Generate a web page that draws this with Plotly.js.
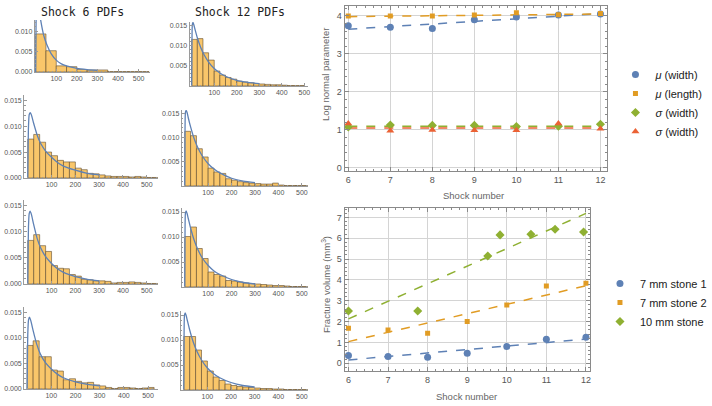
<!DOCTYPE html>
<html><head><meta charset="utf-8">
<script src="https://cdn.plot.ly/plotly-3.0.1.min.js"></script>
<style>body{margin:0;background:#fff}#c{width:712px;height:406px}</style>
</head><body><div id="c"></div>
<script>
// ---------- DATA ----------
const BIN_SHOCK6_TOP = 50;
const BIN = 25;
const histA = [0.0093, 0.0052, 0.0015, 0.0013, 0.0006, 0.0005, 0.0005, 0.0001, 0.0001, 0.0001, 0.0001];
const histB = [0.0115, 0.0117, 0.0082, 0.0064, 0.0037, 0.0027, 0.0021, 0.0017, 0.0012, 0.0010, 0.0008, 0.0006, 0.0005, 0.0004, 0.0003, 0.0003, 0.0002, 0.0001, 0.0001, 0.0001];
const histC = [0.0075, 0.0084, 0.0069, 0.0050, 0.0043, 0.0034, 0.0031, 0.0031, 0.0019, 0.0016, 0.0009, 0.0008, 0.0006, 0.0004, 0.0003, 0.0003, 0.0003, 0.0002, 0.0003, 0.0002, 0.0001, 0.0001];
const histD = [0.0113, 0.0104, 0.0077, 0.0060, 0.0037, 0.0029, 0.0026, 0.0015, 0.0012, 0.0009, 0.0007, 0.0006, 0.0005, 0.0004, 0.0004, 0.0006, 0.0002, 0.0001, 0.0001, 0.0001, 0.0001];
const histE = [0.0083, 0.0094, 0.0073, 0.0062, 0.0035, 0.0030, 0.0029, 0.0018, 0.0015, 0.0009, 0.0008, 0.0006, 0.0006, 0.0005, 0.0002, 0.0003, 0.0003, 0.0004, 0.0003, 0.0002, 0.0001, 0.0001];
const histF = [0.0101, 0.0120, 0.0077, 0.0057, 0.0030, 0.0025, 0.0022, 0.0013, 0.0012, 0.0010, 0.0008, 0.0007, 0.0006, 0.0005, 0.0004, 0.0003, 0.0003, 0.0002, 0.0001, 0.0001, 0.0001];
const histG = [0.0085, 0.0094, 0.0063, 0.0063, 0.0037, 0.0035, 0.0018, 0.0020, 0.0015, 0.0012, 0.0013, 0.0008, 0.0006, 0.0003, 0.0001, 0.0003, 0.0003, 0.0002, 0.0001, 0.0002, 0.0003];
const histH = [0.0107, 0.0107, 0.0080, 0.0058, 0.0038, 0.0026, 0.0019, 0.0012, 0.0009, 0.0007, 0.0006, 0.0005, 0.0004, 0.0003, 0.0003, 0.0002, 0.0002, 0.0001, 0.0001, 0.0001, 0.0001];

const curveX = [0, 1, 3, 6, 10, 15, 25, 40, 55, 75, 100, 125, 150, 200, 250, 300];
const curveA = [0, 0.006, 0.016, 0.019, 0.0185, 0.0162, 0.0125, 0.0088, 0.0066, 0.0045, 0.0029, 0.0020, 0.0015, 0.0009, 0.0006, 0.0004];
const curveB = [0, 0.009, 0.0152, 0.0157, 0.0150, 0.0139, 0.0119, 0.0095, 0.0077, 0.0059, 0.0043, 0.0032, 0.0024, 0.0014, 0.0009, 0.0006];
const curveC = [0, 0.004, 0.0098, 0.0122, 0.0126, 0.0122, 0.0105, 0.0082, 0.0066, 0.0052, 0.0040, 0.0030, 0.0023, 0.0015, 0.0009, 0.0006];
const curveD = [0, 0.009, 0.0152, 0.0156, 0.0152, 0.0141, 0.0122, 0.0098, 0.0080, 0.0062, 0.0046, 0.0035, 0.0027, 0.0016, 0.0010, 0.0007];
const curveE = [0, 0.0045, 0.0108, 0.0134, 0.0139, 0.0133, 0.0113, 0.0086, 0.0068, 0.0052, 0.0039, 0.0029, 0.0022, 0.0014, 0.0009, 0.0006];
const curveF = [0, 0.009, 0.0148, 0.0152, 0.0147, 0.0137, 0.0118, 0.0094, 0.0076, 0.0058, 0.0043, 0.0032, 0.0025, 0.0015, 0.0009, 0.0006];
const curveG = [0, 0.0045, 0.0109, 0.0135, 0.0140, 0.0134, 0.0114, 0.0087, 0.0068, 0.0052, 0.0039, 0.0029, 0.0022, 0.0014, 0.0009, 0.0006];
const curveH = [0, 0.009, 0.0150, 0.0154, 0.0149, 0.0139, 0.0120, 0.0096, 0.0078, 0.0060, 0.0044, 0.0033, 0.0025, 0.0015, 0.0009, 0.0006];

const shocks = [6, 7, 8, 9, 10, 11, 12];
const muWidth = [3.74, 3.70, 3.67, 3.90, 3.97, 4.02, 4.05];
const muLength = [4.00, 4.00, 4.00, 4.02, 4.08, 4.03, 4.06];
const sigmaWidthA = [1.08, 1.13, 1.12, 1.12, 1.09, 1.10, 1.15];
const sigmaWidthB = [1.17, 0.98, 1.00, 0.99, 0.99, 1.17, 1.03];
const fitX = [6, 12];
const muWidthFit = [3.65, 4.06];
const muLengthFit = [3.98, 4.05];
const sigmaWidthAFit = [1.10, 1.10];
const sigmaWidthBFit = [1.05, 1.05];
const paramNames = ['<i>μ</i> (width)', '<i>μ</i> (length)', '<i>σ</i> (width)', '<i>σ</i> (width)'];

const stone1 = [0.37, 0.32, 0.29, 0.48, 0.80, 1.15, 1.25];
const stone2 = [1.68, 1.60, 1.44, 2.00, 2.80, 3.71, 3.84];
const stone10Shock = [6.0, 7.75, 9.52, 9.83, 10.61, 11.22, 11.94];
const stone10 = [2.51, 2.51, 5.15, 6.16, 6.19, 6.43, 6.30];
const stone1Fit = [0.16, 1.16];
const stone2Fit = [1.04, 3.72];
const stone10Fit = [2.13, 7.19];
const stoneNames = ['7 mm stone 1', '7 mm stone 2', '10 mm stone'];

const histTitles = ['Shock 6 PDFs', 'Shock 12 PDFs'];
const xTicks = [100, 200, 300, 400, 500];
const yTicksCol1Top = [0, 0.005, 0.010];
const yTicksCol1 = [0, 0.005, 0.010, 0.015];
const yTicksCol2 = [0.005, 0.010, 0.015];

// ---------- STYLE / LAYOUT ----------
const W = 712, H = 406;
const px = (a, b) => [a / W, b / W];
const py = (top, bottom) => [1 - bottom / H, 1 - top / H];
const BLUE = '#5E81B5', ORANGE = '#E19C24', GREEN = '#8FB032', RED = '#EB6235';
const FILL = '#F9C66A', EDGE = 'rgba(95,75,45,0.85)';
const AX = '#9a9a9a';

const panels = [
  {h: histA, c: curveA, bin: BIN_SHOCK6_TOP, xd: px(36, 155), yd: py(20, 72), xr: [-4, 555], yr: [0, 0.0127], yt: yTicksCol1Top},
  {h: histB, c: curveB, bin: BIN, xd: px(196, 318), yd: py(22, 86), xr: [-9, 515], yr: [0, 0.0158], yt: yTicksCol2},
  {h: histC, c: curveC, bin: BIN, xd: px(25, 163), yd: py(95, 178), xr: [-15, 546], yr: [0, 0.0160], yt: yTicksCol1},
  {h: histD, c: curveD, bin: BIN, xd: px(188, 318), yd: py(110, 186), xr: [-12, 525], yr: [0, 0.0157], yt: yTicksCol2},
  {h: histE, c: curveE, bin: BIN, xd: px(25, 163), yd: py(200, 284), xr: [-15, 546], yr: [0, 0.0160], yt: yTicksCol1},
  {h: histF, c: curveF, bin: BIN, xd: px(188, 318), yd: py(208, 287), xr: [-12, 525], yr: [0, 0.0158], yt: yTicksCol2},
  {h: histG, c: curveG, bin: BIN, xd: px(25, 163), yd: py(307, 389), xr: [-12, 540], yr: [0, 0.0160], yt: yTicksCol1},
  {h: histH, c: curveH, bin: BIN, xd: px(187, 318), yd: py(311, 390), xr: [-12, 525], yr: [0, 0.0158], yt: yTicksCol2}
];

const traces = [];
const layout = {
  width: W, height: H, margin: {l: 0, r: 0, t: 0, b: 0},
  paper_bgcolor: '#fff', plot_bgcolor: 'rgba(0,0,0,0)',
  font: {family: 'Liberation Sans, Arial, sans-serif', color: '#555'},
  barmode: 'overlay', bargap: 0, hovermode: false, showlegend: true,
  annotations: [],
  legend: {x: 636 / W, y: 1 - 60 / H, xanchor: 'left', yanchor: 'top', bgcolor: 'rgba(0,0,0,0)',
           font: {size: 11, color: '#222'}, itemclick: false},
  legend2: {x: 620 / W, y: 1 - 269 / H, xanchor: 'left', yanchor: 'top', bgcolor: 'rgba(0,0,0,0)',
            font: {size: 11, color: '#222'}, itemclick: false}
};

panels.forEach((p, i) => {
  const n = i + 1;
  const xa = 'x' + n, ya = 'y' + n;
  traces.push({
    type: 'bar', xaxis: xa, yaxis: ya, showlegend: false,
    x: p.h.map((_, k) => k * p.bin + p.bin / 2), y: p.h, width: p.bin,
    marker: {color: FILL, line: {color: EDGE, width: 0.7}}
  });
  traces.push({
    type: 'scatter', mode: 'lines', xaxis: xa, yaxis: ya, showlegend: false,
    x: curveX, y: p.c, line: {color: BLUE, width: 1.3, shape: 'spline', smoothing: 0.6}
  });
  layout['xaxis' + n] = {
    domain: p.xd, range: p.xr, anchor: ya, showgrid: false, zeroline: false,
    showline: true, linecolor: AX, linewidth: 1, tickvals: xTicks, ticks: 'inside', ticklen: 3, tickcolor: AX,
    minor: {ticks: 'inside', ticklen: 1.5, dtick: 20, tickcolor: AX},
    tickfont: {size: 7, color: '#555'}, ticklabelstandoff: 0
  };
  layout['yaxis' + n] = {
    domain: p.yd, range: p.yr, anchor: xa, showgrid: false, zeroline: false,
    showline: true, linecolor: AX, linewidth: 1, tickvals: p.yt, tickformat: '.3f', ticks: 'inside', ticklen: 3, tickcolor: AX,
    minor: {ticks: 'inside', ticklen: 1.5, dtick: 0.001, tickcolor: AX},
    tickfont: {size: 7, color: '#555'}
  };
});

// titles of the histogram columns
[[85, histTitles[0]], [248, histTitles[1]]].forEach(([cx, t]) => {
  layout.annotations.push({xref: 'paper', yref: 'paper', x: cx / W, y: 1 - 12 / H, text: t, showarrow: false,
    font: {family: 'DejaVu Sans Mono, monospace', size: 11.5, color: '#222'}, xanchor: 'center', yanchor: 'middle'});
});

// right plots
const rAxis = (dom, rng, anchor, extra) => Object.assign({
  domain: dom, range: rng, anchor: anchor, showgrid: true, gridcolor: '#d4d4d4', gridwidth: 1, zeroline: false,
  showline: true, linecolor: '#8a8a8a', linewidth: 1, mirror: 'ticks', ticks: 'inside', ticklen: 4, tickcolor: '#8a8a8a',
  dtick: 1, tickfont: {size: 9, color: '#555'},
  minor: {ticks: 'inside', ticklen: 2, dtick: 0.2, tickcolor: '#8a8a8a', showgrid: false}
}, extra || {});
layout.xaxis9 = rAxis(px(356, 627), [5.91, 12.15], 'y9');
layout.yaxis9 = rAxis(py(6, 171), [-0.08, 4.26], 'x9');
layout.xaxis10 = rAxis(px(356, 610), [5.9, 12.11], 'y10');
layout.yaxis10 = rAxis(py(208, 371), [-0.37, 7.45], 'x10');

const topSeries = [
  {y: muWidth, fit: muWidthFit, c: BLUE, s: 'circle', sz: 7},
  {y: muLength, fit: muLengthFit, c: ORANGE, s: 'square', sz: 5},
  {y: sigmaWidthA, fit: sigmaWidthAFit, c: GREEN, s: 'diamond', sz: 7},
  {y: sigmaWidthB, fit: sigmaWidthBFit, c: RED, s: 'triangle-up', sz: 7}
];
topSeries.forEach(s => {
  traces.push({type: 'scatter', mode: 'lines', xaxis: 'x9', yaxis: 'y9', x: fitX, y: s.fit, showlegend: false,
    line: {color: s.c, width: 1.5, dash: 'dash'}});
});
topSeries.forEach((s, i) => {
  traces.push({type: 'scatter', mode: 'markers', xaxis: 'x9', yaxis: 'y9', x: shocks, y: s.y, name: paramNames[i],
    legend: 'legend', marker: {color: s.c, symbol: s.s, size: s.sz}});
});

const botSeries = [
  {x: shocks, y: stone1, fit: stone1Fit, c: BLUE, s: 'circle', sz: 7},
  {x: shocks, y: stone2, fit: stone2Fit, c: ORANGE, s: 'square', sz: 5},
  {x: stone10Shock, y: stone10, fit: stone10Fit, c: GREEN, s: 'diamond', sz: 7}
];
botSeries.forEach(s => {
  traces.push({type: 'scatter', mode: 'lines', xaxis: 'x10', yaxis: 'y10', x: fitX, y: s.fit, showlegend: false,
    line: {color: s.c, width: 1.5, dash: 'dash'}});
});
botSeries.forEach((s, i) => {
  traces.push({type: 'scatter', mode: 'markers', xaxis: 'x10', yaxis: 'y10', x: s.x, y: s.y, name: stoneNames[i],
    legend: 'legend2', marker: {color: s.c, symbol: s.s, size: s.sz}});
});

// axis titles as annotations
const ann = (x, y, t, ang) => layout.annotations.push({xref: 'paper', yref: 'paper', x: x / W, y: 1 - y / H, text: t,
  showarrow: false, textangle: ang || 0, font: {size: 9.5, color: '#666'}, xanchor: 'center', yanchor: 'middle'});
ann(489, 195, 'Shock number');
ann(482, 396, 'Shock number');
ann(337, 75, 'Log normal parameter', -90);
ann(337, 285, 'Fracture volume (mm<sup>3</sup>)', -90);

Plotly.newPlot('c', traces, layout, {staticPlot: true, displayModeBar: false});
</script>
</body></html>
